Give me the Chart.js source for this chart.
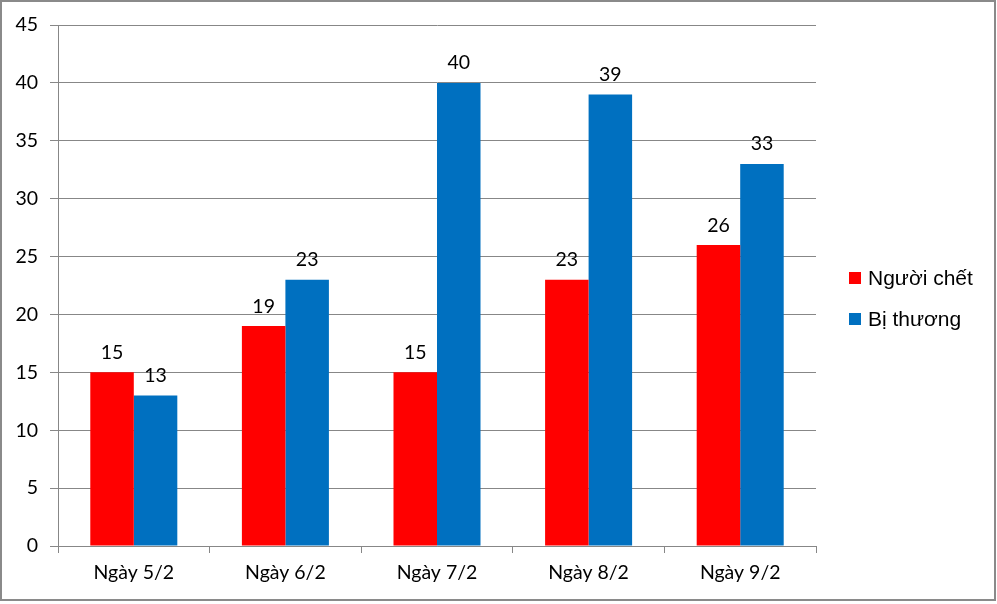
<!DOCTYPE html>
<html><head><meta charset="utf-8">
<script src="https://cdn.jsdelivr.net/npm/chart.js@4"></script>
<style>
html,body{margin:0;padding:0;background:#fff;}
#wrap{position:relative;width:997px;height:604px;}
#frame{position:absolute;left:0;top:0;width:996px;height:601px;border:2px solid #8a8a8a;box-sizing:border-box;pointer-events:none;}
canvas{position:absolute;left:0;top:0;}
</style></head>
<body>
<div id="wrap"><canvas id="c" width="997" height="604"></canvas><div id="frame"></div></div>
<script>
const categories = ["Ngày 5/2", "Ngày 6/2", "Ngày 7/2", "Ngày 8/2", "Ngày 9/2"];
const deaths = [15, 19, 15, 23, 26];
const injured = [13, 23, 40, 39, 33];
const seriesNames = ["Người chết", "Bị thương"];
const seriesColors = ["#FF0000", "#0070C0"];
const yMax = 45, yStep = 5;

const tickFont = {family: "Lato, 'Open Sans', sans-serif", size: 19.5};
const gridColor = "#878787";

const labelPlugin = {
  id: 'valueLabels',
  afterDatasetsDraw(chart) {
    const ctx = chart.ctx;
    ctx.save();
    ctx.font = "19.5px Lato, 'Open Sans', sans-serif";
    ctx.fillStyle = "#000";
    ctx.textAlign = "center";
    ctx.textBaseline = "bottom";
    chart.data.datasets.forEach((ds, i) => {
      const meta = chart.getDatasetMeta(i);
      meta.data.forEach((bar, j) => {
        ctx.fillText(String(ds.data[j]), bar.x, bar.y - 10);
      });
    });
    ctx.restore();
  }
};

const legendPlugin = {
  id: 'sideLegend',
  afterDraw(chart) {
    const ctx = chart.ctx;
    ctx.save();
    ctx.font = "21px 'Liberation Sans', Arial, sans-serif";
    ctx.textBaseline = "middle";
    ctx.textAlign = "left";
    const x0 = 849, y0 = 278, gap = 41;
    chart.data.datasets.forEach((ds, i) => {
      const cy = y0 + i * gap;
      ctx.fillStyle = ds.backgroundColor;
      ctx.fillRect(x0, cy - 6, 12, 12);
      ctx.fillStyle = "#000";
      ctx.fillText(ds.label, x0 + 19, cy + 1);
    });
    ctx.restore();
  }
};

new Chart(document.getElementById('c'), {
  type: 'bar',
  data: {
    labels: categories,
    datasets: [
      {label: seriesNames[0], data: deaths, backgroundColor: seriesColors[0]},
      {label: seriesNames[1], data: injured, backgroundColor: seriesColors[1]}
    ]
  },
  options: {
    responsive: false,
    animation: false,
    devicePixelRatio: 1,
    layout: {padding: {top: 25, right: 181, left: 0, bottom: 0}},
    datasets: {bar: {categoryPercentage: 0.574, barPercentage: 1, borderWidth: 0}},
    plugins: {legend: {display: false}, tooltip: {enabled: false}},
    scales: {
      x: {
        grid: {display: true, offset: true, drawOnChartArea: false, drawTicks: true, tickLength: 7, color: gridColor},
        border: {display: true, color: gridColor, width: 1},
        ticks: {font: tickFont, color: "#000", padding: 8},
        afterFit(s) { s.height = 58; }
      },
      y: {
        min: 0, max: yMax,
        ticks: {stepSize: yStep, font: tickFont, color: "#000", padding: 12},
        grid: {color: gridColor, tickLength: 8, drawTicks: true},
        border: {display: true, color: gridColor, width: 1},
        afterFit(s) { s.width = 58; }
      }
    }
  },
  plugins: [labelPlugin, legendPlugin]
});
</script>
</body></html>
